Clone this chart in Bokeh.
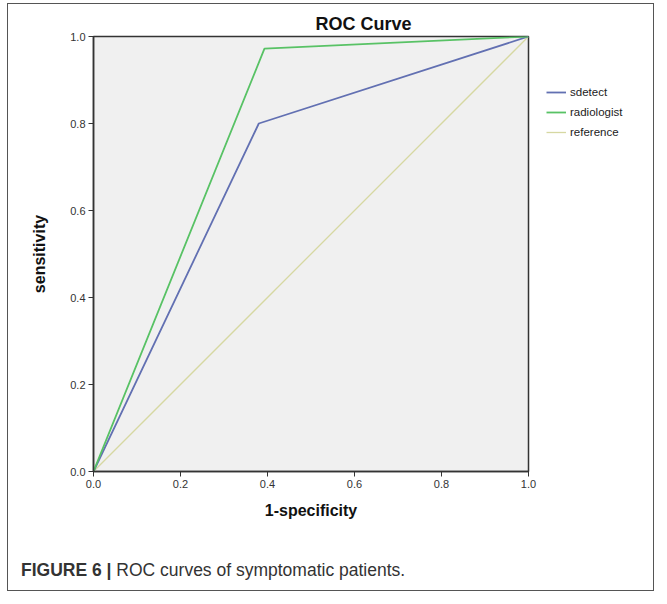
from bokeh.plotting import figure
from bokeh.models import Legend, LegendItem, Range1d, FixedTicker, Div
from bokeh.layouts import column
from bokeh.embed import file_html
from bokeh.resources import INLINE

# data
sdetect_x = [0.0, 0.38, 1.0]
sdetect_y = [0.0, 0.80, 1.0]
radiologist_x = [0.0, 0.393, 1.0]
radiologist_y = [0.0, 0.972, 1.0]
reference_x = [0.0, 1.0]
reference_y = [0.0, 1.0]
ticks = [0.0, 0.2, 0.4, 0.6, 0.8, 1.0]
title_text = "ROC Curve"
caption_bold = "FIGURE 6 |"
caption_text = "ROC curves of symptomatic patients."

FONT = "Liberation Sans"
BORDER = "1px solid #555555"

p = figure(frame_width=435, frame_height=435, output_backend="svg", toolbar_location=None,
           x_range=Range1d(0, 1), y_range=Range1d(0, 1),
           min_border_left=93, min_border_right=121, min_border_top=36, min_border_bottom=64)

p.background_fill_color = "#f0f0f0"
p.border_fill_color = "white"
p.outline_line_color = "#333333"
p.outline_line_width = 1.5
p.grid.visible = False

p.title.text = title_text
p.title.align = "left"
p.title.offset = 222
p.title.text_font = FONT
p.title.text_font_size = "18px"
p.title.text_font_style = "bold"
p.title.text_color = "#111111"
p.title.standoff = 5

for ax in (p.xaxis[0], p.yaxis[0]):
    ax.ticker = FixedTicker(ticks=ticks)
    ax.major_label_overrides = {t: f"{t:.1f}" for t in ticks}
    ax.minor_tick_line_color = None
    ax.major_tick_in = 0
    ax.major_tick_out = 5
    ax.major_tick_line_color = "#333333"
    ax.axis_line_color = "#333333"
    ax.axis_line_width = 1.5
    ax.major_label_text_font = FONT
    ax.major_label_text_font_size = "11px"
    ax.major_label_text_color = "#333333"
    ax.axis_label_text_font = FONT
    ax.axis_label_text_font_size = "16px"
    ax.axis_label_text_font_style = "bold"
    ax.axis_label_text_color = "#111111"

p.xaxis.axis_label = "1-specificity"
p.yaxis.axis_label = "sensitivity"
p.xaxis.major_label_standoff = 3
p.yaxis.major_label_standoff = 3
p.xaxis.axis_label_standoff = 11
p.yaxis.axis_label_standoff = 19

r_ref = p.line(reference_x, reference_y, line_color="#d6d8a2", line_width=1.3)
r_sd = p.line(sdetect_x, sdetect_y, line_color="#6270b2", line_width=1.8)
r_rad = p.line(radiologist_x, radiologist_y, line_color="#58c265", line_width=1.8)

legend = Legend(items=[LegendItem(label="sdetect", renderers=[r_sd]),
                       LegendItem(label="radiologist", renderers=[r_rad]),
                       LegendItem(label="reference", renderers=[r_ref])],
                location="top_left", orientation="vertical")
legend.title = " "
legend.title_text_font_size = "26px"
legend.title_standoff = 0
legend.background_fill_alpha = 0
legend.border_line_color = None
legend.label_text_font = FONT
legend.label_text_font_size = "11.5px"
legend.label_text_color = "#222222"
legend.glyph_width = 20
legend.glyph_height = 14
legend.label_standoff = 4
legend.spacing = 6
legend.padding = 0
legend.margin = 18
p.add_layout(legend, "right")

frame_box = ('<div style="position:absolute; left:2px; bottom:0px; width:647px; height:588px; '
             'border:1px solid #555555; box-sizing:border-box; pointer-events:none;"></div>')
caption = Div(text=f'<b>{caption_bold}</b> {caption_text}{frame_box}', width=651, height=51,
              styles={"font-family": FONT, "font-size": "17.5px", "color": "#333333",
                      "padding-top": "18px", "padding-left": "16px", "box-sizing": "border-box",
                      "position": "relative", "overflow": "visible"})

layout = column(p, caption, spacing=0)

open("out.html", "w").write(file_html(layout, INLINE))
